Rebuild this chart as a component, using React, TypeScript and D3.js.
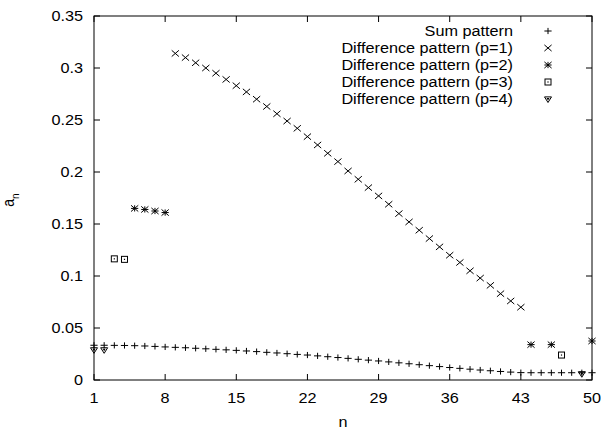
import * as d3 from "d3";

// element index n (1..50)
const nAll = d3.range(1, 51);

// sum pattern, one value per n
const sumValues = [
  0.0334, 0.0334, 0.0333, 0.0332, 0.0330, 0.0327, 0.0323, 0.0318, 0.0314, 0.0310,
  0.0305, 0.0300, 0.0295, 0.0290, 0.0285, 0.0279, 0.0273, 0.0266, 0.0260, 0.0253,
  0.0246, 0.0240, 0.0232, 0.0224, 0.0216, 0.0208, 0.0199, 0.0191, 0.0183, 0.0174,
  0.0165, 0.0156, 0.0147, 0.0138, 0.0129, 0.0120, 0.0112, 0.0104, 0.0096, 0.0089,
  0.0082, 0.0076, 0.0071, 0.0070, 0.0070, 0.0070, 0.0070, 0.0070, 0.0070, 0.0070,
];

// difference pattern p=1 (n = 9..43)
const p1N = d3.range(9, 44);
const p1Values = [
  0.314, 0.310, 0.305, 0.300, 0.295, 0.289, 0.283, 0.277, 0.270, 0.263,
  0.256, 0.249, 0.242, 0.234, 0.226, 0.218, 0.210, 0.201, 0.193, 0.185,
  0.177, 0.169, 0.160, 0.152, 0.144, 0.136, 0.128, 0.120, 0.113, 0.105,
  0.098, 0.091, 0.083, 0.076, 0.070,
];

// p=2
const p2N = [5, 6, 7, 8, 44, 46, 50];
const p2Values = [0.165, 0.164, 0.1625, 0.161, 0.034, 0.034, 0.0375];

// p=3
const p3N = [3, 4, 47];
const p3Values = [0.1165, 0.116, 0.024];

// p=4
const p4N = [1, 2, 49];
const p4Values = [0.029, 0.029, 0.006];

const xTicks = [1, 8, 15, 22, 29, 36, 43, 50];
const yTicks = [0, 0.05, 0.1, 0.15, 0.2, 0.25, 0.3, 0.35];

const legendLabels = [
  "Sum pattern",
  "Difference pattern (p=1)",
  "Difference pattern (p=2)",
  "Difference pattern (p=3)",
  "Difference pattern (p=4)",
];

const W = 605;
const H = 432;
const margin = { top: 16, right: 13, bottom: 52, left: 94 };
const width = W - margin.left - margin.right;
const height = H - margin.top - margin.bottom;
const font = "'Liberation Sans', Arial, Helvetica, sans-serif";
const stretch = 1.16; // text in the picture is drawn a bit wide

type Kind = "plus" | "cross" | "star" | "box" | "tri";

function T({ x, y, anchor, children, size = 14 }: { x: number; y: number; anchor: string; children: any; size?: number }) {
  return (
    <text transform={`translate(${x},${y}) scale(${stretch},1)`} textAnchor={anchor} fontSize={size}>
      {children}
    </text>
  );
}

function Marker({ kind, x, y }: { kind: Kind; x: number; y: number }) {
  const sx = 3.6;
  const sy = 3.1;
  const st = { stroke: "#000", strokeWidth: 1, fill: "none" };
  if (kind === "plus") {
    return <path d={`M${x - sx},${y}H${x + sx}M${x},${y - sy}V${y + sy}`} {...st} />;
  }
  if (kind === "cross") {
    return <path d={`M${x - sx},${y - sy}L${x + sx},${y + sy}M${x - sx},${y + sy}L${x + sx},${y - sy}`} {...st} />;
  }
  if (kind === "star") {
    return (
      <path
        d={`M${x - sx},${y}H${x + sx}M${x},${y - sy}V${y + sy}M${x - sx},${y - sy}L${x + sx},${y + sy}M${x - sx},${y + sy}L${x + sx},${y - sy}`}
        {...st}
      />
    );
  }
  if (kind === "box") {
    const b = 3;
    return (
      <g>
        <rect x={x - b} y={y - b} width={2 * b} height={2 * b} {...st} />
        <rect x={x - 0.6} y={y - 0.6} width={1.2} height={1.2} fill="#000" />
      </g>
    );
  }
  const t = 3.5;
  return (
    <g>
      <path d={`M${x - t},${y - t * 0.6}L${x + t},${y - t * 0.6}L${x},${y + t}Z`} {...st} />
      <path d={`M${x - 1.5},${y - 1}L${x + 1.5},${y - 1}L${x},${y + 1.5}Z`} fill="#000" />
    </g>
  );
}

export default function App() {
  const x = d3.scaleLinear().domain([1, 50]).range([0, width]);
  const y = d3.scaleLinear().domain([0, 0.35]).range([height, 0]);

  const series: { kind: Kind; ns: number[]; vs: number[] }[] = [
    { kind: "plus", ns: nAll, vs: sumValues },
    { kind: "cross", ns: p1N, vs: p1Values },
    { kind: "star", ns: p2N, vs: p2Values },
    { kind: "box", ns: p3N, vs: p3Values },
    { kind: "tri", ns: p4N, vs: p4Values },
  ];

  const tl = 6;

  return (
    <svg width={W} height={H} style={{ position: "absolute", left: 0, top: 0, background: "#fff" }}>
      <g transform={`translate(${margin.left},${margin.top})`} fontFamily={font}>
        {xTicks.map((t) => (
          <g key={"x" + t}>
            <line x1={x(t)} x2={x(t)} y1={height} y2={height - tl} stroke="#000" />
            <line x1={x(t)} x2={x(t)} y1={0} y2={tl} stroke="#000" />
            <T x={x(t)} y={height + 23} anchor="middle">{t}</T>
          </g>
        ))}
        {yTicks.map((t) => (
          <g key={"y" + t}>
            <line x1={0} x2={tl} y1={y(t)} y2={y(t)} stroke="#000" />
            <line x1={width} x2={width - tl} y1={y(t)} y2={y(t)} stroke="#000" />
            <T x={-11} y={y(t) + 5} anchor="end">{t}</T>
          </g>
        ))}
        <rect x={0} y={0} width={width} height={height} fill="none" stroke="#000" strokeWidth={1} />

        {series.map((s, i) => (
          <g key={"s" + i}>
            {s.ns.map((n, j) => (
              <Marker key={j} kind={s.kind} x={x(n)} y={y(s.vs[j])} />
            ))}
          </g>
        ))}

        {legendLabels.map((l, i) => (
          <g key={"l" + i} transform={`translate(0,${15 + i * 17})`}>
            <T x={419} y={5} anchor="end">{l}</T>
            <Marker kind={series[i].kind} x={454} y={0} />
          </g>
        ))}

        <T x={width / 2} y={height + 47} anchor="middle">n</T>
        <text transform={`translate(${-80},${height / 2 + 2}) rotate(-90) scale(1,${stretch})`} textAnchor="middle" fontSize={14}>
          a<tspan dy="4" fontSize={10}>n</tspan>
        </text>
      </g>
    </svg>
  );
}
